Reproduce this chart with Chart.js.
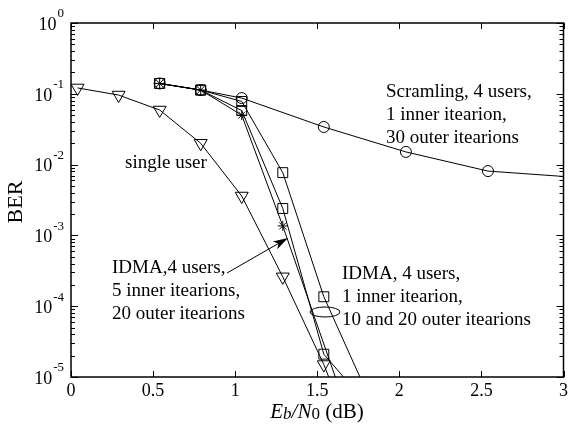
<!DOCTYPE html>
<html>
<head>
<meta charset="utf-8">
<script src="https://cdn.jsdelivr.net/npm/chart.js@4.4.1/dist/chart.umd.min.js"></script>
<style>
  html, body { margin: 0; padding: 0; background: #fff; }
  #wrap { width: 572px; height: 427px; }
</style>
</head>
<body>
<div id="wrap"><canvas id="berChart" width="572" height="427"></canvas></div>
<script>
// Values (Eb/N0 in dB -> BER)
const xTicks = [0, 0.5, 1, 1.5, 2, 2.5, 3];
const yDecades = [0, -1, -2, -3, -4, -5];

// single user (triangles)
const singleX = [0.04, 0.29, 0.54, 0.79, 1.04, 1.29, 1.54, 1.57];
const singleBer = [0.121, 0.096, 0.059, 0.020, 0.0036, 0.00026, 0.000015, 0.00001];

// scrambling, 4 users, 1 inner / 30 outer (circles)
const scrX = [0.54, 0.79, 1.04, 1.54, 2.04, 2.54, 3.0];
const scrBer = [0.14, 0.113, 0.087, 0.034, 0.0151, 0.0081, 0.0068];

// IDMA, 4 users, 1 inner / 10 outer (squares)
const idma10X = [0.54, 0.79, 1.04, 1.29, 1.54, 1.76];
const idma10Ber = [0.14, 0.113, 0.078, 0.0077, 0.000136, 0.00001];

// IDMA, 4 users, 1 inner / 20 outer (squares)
const idma20X = [0.54, 0.79, 1.04, 1.29, 1.54, 1.66];
const idma20Ber = [0.14, 0.113, 0.058, 0.0024, 0.000021, 0.00001];

// IDMA, 4 users, 5 inner / 20 outer (stars)
const idma5X = [0.54, 0.79, 1.04, 1.29, 1.61];
const idma5Ber = [0.14, 0.113, 0.05, 0.00136, 0.00001];

const SERIF = '"Liberation Serif", "DejaVu Serif", serif';

const pts = (xs, ys) => xs.map((x, i) => ({ x: x, y: ys[i] }));

// last point of a series only carries the line down to the axis, no marker
const hideLast = (r) => (ctx) => ctx.dataIndex === ctx.dataset.data.length - 1 ? 0 : r;

function series(data, style, r, rot) {
    return {
        data: data,
        showLine: true,
        borderColor: '#000',
        borderWidth: 1,
        backgroundColor: 'rgba(0,0,0,0)',
        pointStyle: style,
        pointRotation: rot || 0,
        pointRadius: hideLast(r),
        pointBorderColor: '#000',
        pointBorderWidth: 1,
        pointBackgroundColor: 'rgba(0,0,0,0)',
        tension: 0
    };
}

// Frame, inward ticks, tick labels, axis titles and the annotations
const decorations = {
    id: 'decorations',
    afterDatasetsDraw(chart) {
        const ctx = chart.ctx;
        const area = chart.chartArea;
        const xs = chart.scales.x;
        const ys = chart.scales.y;
        ctx.save();
        ctx.strokeStyle = '#000';
        ctx.fillStyle = '#000';

        // frame
        ctx.lineWidth = 1.5;
        ctx.strokeRect(area.left, area.top, area.right - area.left, area.bottom - area.top);

        // x ticks (bottom + top)
        ctx.lineWidth = 1;
        ctx.beginPath();
        xTicks.forEach(v => {
            const px = Math.round(xs.getPixelForValue(v)) + 0.5;
            ctx.moveTo(px, area.bottom); ctx.lineTo(px, area.bottom - 6);
            ctx.moveTo(px, area.top); ctx.lineTo(px, area.top + 6);
        });
        // y ticks (left + right), major and minor
        yDecades.forEach(d => {
            const py = Math.round(ys.getPixelForValue(Math.pow(10, d))) + 0.5;
            ctx.moveTo(area.left, py); ctx.lineTo(area.left + 7, py);
            ctx.moveTo(area.right, py); ctx.lineTo(area.right - 7, py);
            if (d > -5) {
                for (let m = 2; m <= 9; m++) {
                    const pm = Math.round(ys.getPixelForValue(m * Math.pow(10, d - 1))) + 0.5;
                    ctx.moveTo(area.left, pm); ctx.lineTo(area.left + 4, pm);
                    ctx.moveTo(area.right, pm); ctx.lineTo(area.right - 4, pm);
                }
            }
        });
        ctx.stroke();

        // x tick labels
        ctx.font = '18px ' + SERIF;
        ctx.textAlign = 'center';
        ctx.textBaseline = 'middle';
        xTicks.forEach(v => {
            ctx.fillText(String(v), xs.getPixelForValue(v), area.bottom + 14);
        });

        // y tick labels 10^k
        yDecades.forEach(d => {
            const py = ys.getPixelForValue(Math.pow(10, d));
            const exp = d === 0 ? '0' : '-' + Math.abs(d);
            ctx.font = '13px ' + SERIF;
            const ew = ctx.measureText(exp).width;
            const right = 64;
            ctx.textAlign = 'left';
            ctx.fillText(exp, right - ew, py - 9);
            ctx.font = '18px ' + SERIF;
            ctx.textAlign = 'right';
            ctx.fillText('10', right - ew - 1, py + 2);
        });

        // y title
        ctx.save();
        ctx.translate(16, 202);
        ctx.rotate(-Math.PI / 2);
        ctx.textAlign = 'center';
        ctx.font = '22px ' + SERIF;
        ctx.fillText('BER', 0, 0);
        ctx.restore();

        // x title: Eb/N0 (dB)
        const parts = [
            { t: 'E', f: 'italic 21px ', dy: 0 },
            { t: 'b', f: 'italic 17px ', dy: 3 },
            { t: '/N', f: 'italic 21px ', dy: 0 },
            { t: '0', f: '17px ', dy: 3 },
            { t: ' (dB)', f: '21px ', dy: 0 }
        ];
        let total = 0;
        parts.forEach(p => { ctx.font = p.f + SERIF; p.w = ctx.measureText(p.t).width; total += p.w; });
        let tx = 317 - total / 2;
        ctx.textAlign = 'left';
        parts.forEach(p => {
            ctx.font = p.f + SERIF;
            ctx.fillText(p.t, tx, 412 + p.dy);
            tx += p.w;
        });

        // annotation text
        ctx.font = '19px ' + SERIF;
        ctx.textAlign = 'left';
        const lines = (arr, x, y0, step) => arr.forEach((s, i) => ctx.fillText(s, x, y0 + i * step));
        lines(['Scramling, 4 users,', '1 inner itearion,', '30 outer itearions'], 386, 92, 23);
        lines(['single user'], 125, 163, 23);
        lines(['IDMA,4 users,', '5 inner itearions,', '20 outer itearions'], 112, 268, 23);
        lines(['IDMA, 4 users,', '1 inner itearion,', '10 and 20 outer itearions'], 342, 274, 23);

        // ellipse round the two squared curves
        ctx.lineWidth = 1;
        ctx.beginPath();
        ctx.ellipse(325, 312, 15, 5, 0, 0, Math.PI * 2);
        ctx.stroke();

        // arrow to the star curve
        const ax0 = 227, ay0 = 273, ax1 = 288, ay1 = 238;
        const ang = Math.atan2(ay1 - ay0, ax1 - ax0);
        ctx.beginPath();
        ctx.moveTo(ax0, ay0);
        ctx.lineTo(ax1 - 10 * Math.cos(ang), ay1 - 10 * Math.sin(ang));
        ctx.stroke();
        ctx.beginPath();
        ctx.moveTo(ax1, ay1);
        ctx.lineTo(ax1 - 15 * Math.cos(ang) + 4.5 * Math.sin(ang), ay1 - 15 * Math.sin(ang) - 4.5 * Math.cos(ang));
        ctx.lineTo(ax1 - 11 * Math.cos(ang), ay1 - 11 * Math.sin(ang));
        ctx.lineTo(ax1 - 15 * Math.cos(ang) - 4.5 * Math.sin(ang), ay1 - 15 * Math.sin(ang) + 4.5 * Math.cos(ang));
        ctx.closePath();
        ctx.fill();

        ctx.restore();
    }
};

const chart = new Chart(document.getElementById('berChart'), {
    type: 'scatter',
    data: {
        datasets: [
            series(pts(singleX, singleBer), 'triangle', 7.5, 180),
            series(pts(scrX, scrBer), 'circle', 5.5),
            series(pts(idma10X, idma10Ber), 'rect', 7),
            series(pts(idma20X, idma20Ber), 'rect', 7),
            series(pts(idma5X, idma5Ber), 'star', 5)
        ]
    },
    options: {
        responsive: false,
        animation: false,
        layout: { padding: { left: 71, right: 6, top: 23, bottom: 50 } },
        plugins: {
            legend: { display: false },
            tooltip: { enabled: false }
        },
        scales: {
            x: { type: 'linear', display: false, min: 0, max: 3 },
            y: { type: 'logarithmic', display: false, min: 1e-5, max: 1 }
        }
    },
    plugins: [decorations]
});
</script>
</body>
</html>
